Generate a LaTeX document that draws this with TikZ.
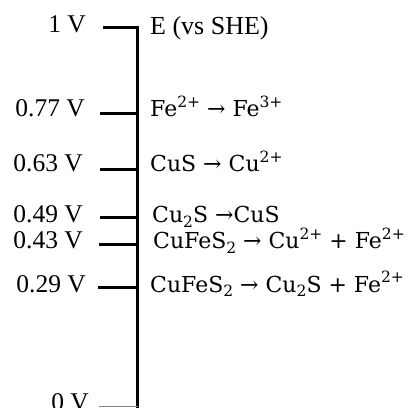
\documentclass[tikz,border=0pt]{standalone}
\usepackage{fontspec}
\setmainfont{Liberation Serif}
\newfontfamily\chemfont{DejaVu Serif}
\newcommand\chsup[1]{\raisebox{0.42em}{\fontsize{15.5}{16}\selectfont #1}}
\newcommand\chsub[1]{\raisebox{-0.22em}{\fontsize{15.5}{16}\selectfont #1}}
\begin{document}
\begin{tikzpicture}[x=1pt,y=1pt,
  axisline/.style={line width=3pt},
  ticklabel/.style={anchor=base east,inner sep=0pt,font=\fontsize{25.5}{30}\selectfont},
  chemlabel/.style={anchor=base west,inner sep=0pt,font=\chemfont\fontsize{22}{26}\selectfont}]
\useasboundingbox (0,0) rectangle (409,407);
% axis
\coordinate (top) at (137.5,379);
\coordinate (bot) at (137.5,-2);
\draw[axisline] (top) -- (bot);
% tick start points
\coordinate (t100) at (103,379);
\coordinate (t077) at (100,293);
\coordinate (t063) at (100,237);
\coordinate (t049) at (100,189);
\coordinate (t043) at (99,162);
\coordinate (t029) at (98,120);
\coordinate (t000) at (99,1);
\foreach \t in {t100,t077,t063,t049,t043,t029}
  \draw[axisline] (\t) -- ([xshift=1.5pt]\t -| top);
\draw[line width=1pt,gray] (t000) -- (t000 -| top);
% voltage labels
\node[ticklabel] (v100) at (86,374) {1 V};
\node[ticklabel] (v077) at (85,290) {0.77 V};
\node[ticklabel] (v063) at (83,235) {0.63 V};
\node[ticklabel] (v049) at (83,184) {0.49 V};
\node[ticklabel] (v043) at (83,158) {0.43 V};
\node[ticklabel] (v029) at (86,115) {0.29 V};
\node[ticklabel] (v000) at (89,-3) {0 V};
% reaction labels
\node[anchor=base west,inner sep=0pt,font=\fontsize{26}{30}\selectfont] (e) at (150,372) {E (vs SHE)};
\node[chemlabel] (r077) at (150,290) {Fe\chsup{2+} → Fe\chsup{3+}};
\node[chemlabel] (r063) at (150,235) {CuS → Cu\chsup{2+}};
\node[chemlabel] (r049) at (152,184) {Cu\chsub{2}S →CuS};
\node[chemlabel] (r043) at (153,158) {CuFeS\chsub{2} → Cu\chsup{2+} + Fe\chsup{2+}};
\node[chemlabel] (r029) at (150,115) {CuFeS\chsub{2} → Cu\chsub{2}S + Fe\chsup{2+}};
\end{tikzpicture}
\end{document}
